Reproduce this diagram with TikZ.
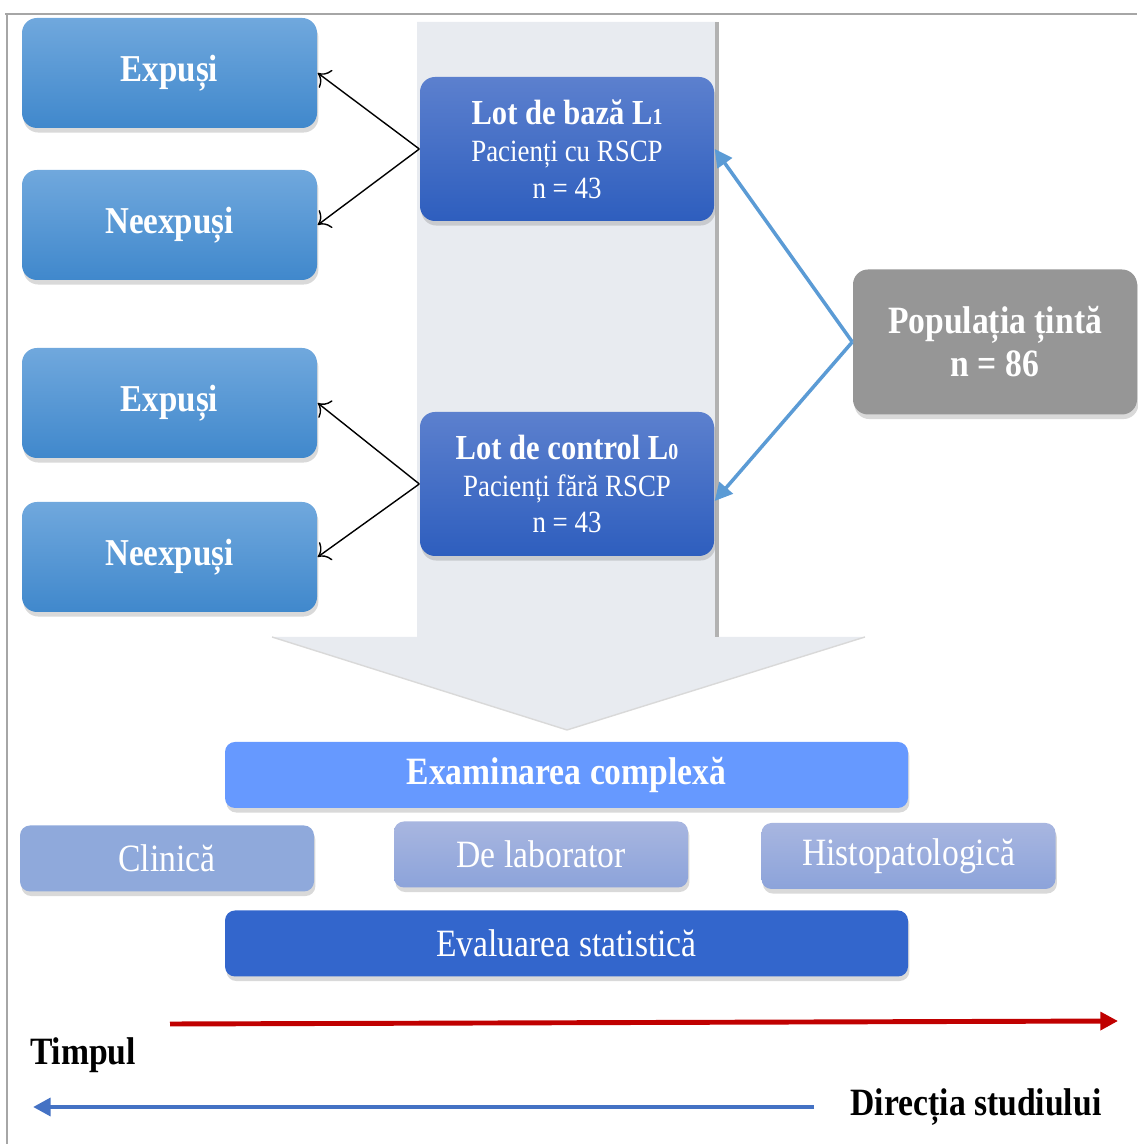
\documentclass[tikz,border=0pt]{standalone}
\usepackage{fontspec}
\setmainfont{Liberation Serif}[FakeStretch=0.87]
\usepackage{xcolor}
\usepackage{tikz}
\usetikzlibrary{arrows.meta,positioning,shadows}
\definecolor{sidetop}{RGB}{112,168,221}
\definecolor{sidebot}{RGB}{64,136,204}
\definecolor{lottop}{RGB}{92,128,206}
\definecolor{lotbot}{RGB}{46,94,190}
\definecolor{popgray}{RGB}{150,150,150}
\definecolor{colbg}{RGB}{232,235,240}
\definecolor{examblue}{RGB}{102,153,255}
\definecolor{clinblue}{RGB}{143,169,219}
\definecolor{labtop}{RGB}{168,182,224}
\definecolor{labbot}{RGB}{140,163,218}
\definecolor{evalblue}{RGB}{51,102,204}
\definecolor{popline}{RGB}{91,155,213}
\definecolor{timered}{RGB}{192,0,0}
\definecolor{dirblue}{RGB}{68,114,196}
\newcommand{\lotidx}[1]{{\fontsize{6.5}{7}\selectfont #1}}

\begin{document}
\begin{tikzpicture}[node distance=0.2cm]
\tikzset{box/.style={rounded corners=0.15cm,text=white,inner sep=2pt,
    drop shadow={shadow xshift=0.4pt,shadow yshift=-1.3pt,opacity=0.3}},
  side/.style={box,minimum width=2.95cm,minimum height=1.1cm,top color=sidetop,bottom color=sidebot,
    font=\fontsize{10.8}{13}\selectfont\bfseries},
  lot/.style={box,minimum width=2.94cm,minimum height=1.44cm,top color=lottop,bottom color=lotbot,
    align=center,font=\fontsize{8.8}{10.5}\selectfont},
  exam/.style={box,rounded corners=0.1cm,minimum height=0.66cm,font=\fontsize{11}{13}\selectfont},
  bluearr/.style={draw=popline,line width=1pt,-{Triangle[length=5pt,width=5pt]}}}
\useasboundingbox (0,0) rectangle (11.37,11.44);
% frame
\draw[gray!70] (0.05,11.30) -- (11.37,11.30);
\draw[gray!70] (0.07,11.30) -- (0.07,0);
% big arrow behind the groups
\fill[colbg] (4.17,11.22) -- (7.17,11.22) -- (7.17,5.07) -- (8.65,5.07) -- (5.67,4.14)
  -- (2.72,5.07) -- (4.17,5.07) -- cycle;
\draw[gray!60,line width=1pt] (7.17,11.22) -- (7.17,5.07);
\draw[gray!30] (8.65,5.07) -- (5.67,4.14) -- (2.72,5.07);
% groups
\foreach \t/\y/\n in {Expuși/10.71/expb,Neexpuși/9.19/nexpb,Expuși/7.41/expc,Neexpuși/5.87/nexpc}
  \node[side] (\n) at (1.695,\y){\t};
\node[lot] (lotb) at (5.67,9.95){{\fontsize{10}{12}\selectfont\bfseries Lot de bază L\lotidx{1}}\\Pacienți cu RSCP\\n = 43};
\node[lot] (lotc) at (5.67,6.60){{\fontsize{10}{12}\selectfont\bfseries Lot de control L\lotidx{0}}\\Pacienți fără RSCP\\n = 43};
\node[box,minimum width=2.84cm,minimum height=1.45cm,fill=popgray,align=center,
  font=\fontsize{11}{12.2}\selectfont\bfseries] (pop) at (9.95,8.02){Populația țintă\\n = 86};
\foreach \l/\a/\b in {lotb/expb/nexpb,lotc/expc/nexpc}{
  \draw[thin,-{To[length=3pt]}] (\l.west) -- (\a.east);
  \draw[thin,-{To[length=3pt]}] (\l.west) -- (\b.east);
}
\draw[bluearr] (pop.west) -- (lotb.east);
\draw[bluearr] (pop.west) -- ([yshift=-0.17cm]lotc.east);
% examination
\node[exam,minimum width=6.83cm,fill=examblue,font=\fontsize{11}{13}\selectfont\bfseries] (examc) at (5.665,3.69){Examinarea complexă};
\node[exam,minimum width=2.94cm,fill=clinblue] (clin) at (1.67,2.855){Clinică};
\node[exam,minimum width=2.94cm,top color=labtop,bottom color=labbot] (lab) at (5.41,2.895){De laborator};
\node[exam,minimum width=2.94cm,top color=labtop,bottom color=labbot] (hist) at (9.085,2.88){Histopatologică};
\node[exam,minimum width=6.83cm,fill=evalblue] (eval) at (5.665,2.005){Evaluarea statistică};
% time axis
\coordinate (tstart) at (1.70,1.20);
\coordinate (tend) at (11.18,1.23);
\draw[timered,line width=1.4pt,-{Triangle[length=5pt,width=5pt]}] (tstart) -- (tend);
\node[font=\fontsize{11}{13}\selectfont\bfseries] (timp) at (0.83,0.89){Timpul};
\node[font=\fontsize{11}{13}\selectfont\bfseries] (dir) at (9.76,0.37){Direcția studiului};
\coordinate (dend) at (0.33,0.37);
\draw[dirblue,line width=1.4pt,-{Triangle[length=5pt,width=5pt]}] ([xshift=-0.24cm]dir.west) -- (dend);
\end{tikzpicture}
\end{document}
